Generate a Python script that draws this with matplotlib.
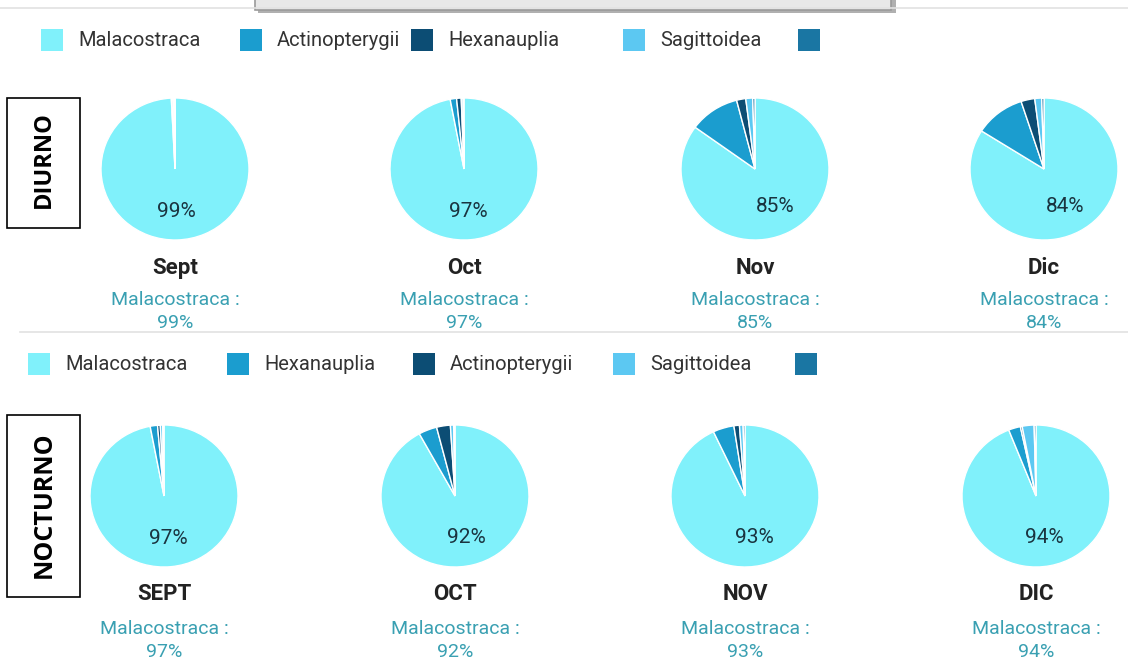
import matplotlib
matplotlib.use("Agg")
import matplotlib.pyplot as plt
from matplotlib.patches import Rectangle

# Datos (porcentajes por mes)
meses_diurno = ['Sept', 'Oct', 'Nov', 'Dic']
taxa_diurno = ['Malacostraca', 'Actinopterygii', 'Hexanauplia', 'Sagittoidea', '']
valores_diurno = [
    [99.2, 0.3, 0.2, 0.2, 0.1],   # Sept
    [97.0, 1.4, 1.0, 0.4, 0.2],   # Oct
    [85.0, 11.0, 2.0, 1.5, 0.5],  # Nov
    [84.0, 11.0, 3.0, 1.5, 0.5],  # Dic
]

meses_nocturno = ['SEPT', 'OCT', 'NOV', 'DIC']
taxa_nocturno = ['Malacostraca', 'Hexanauplia', 'Actinopterygii', 'Sagittoidea', '']
valores_nocturno = [
    [97.0, 1.6, 0.6, 0.5, 0.3],   # SEPT
    [92.0, 4.0, 3.0, 0.7, 0.3],   # OCT
    [93.0, 4.6, 1.2, 0.8, 0.4],   # NOV
    [94.0, 2.6, 0.4, 2.6, 0.4],   # DIC
]

colores = ['#80f1fb', '#1b9dcf', '#0c4d74', '#5cc8f2', '#1a76a3']

W, H = 1128, 661
fig = plt.figure(figsize=(W / 100, H / 100), dpi=100)
plt.rcParams['font.family'] = ['Roboto', 'DejaVu Sans']


def fx(x):
    return x / W


def fy(y):
    return 1 - y / H


def texto(x, y, s, **kw):
    fig.text(fx(x), fy(y), s, ha='center', va='center', **kw)


def caja(x, y, w, h, **kw):
    fig.add_artist(Rectangle((fx(x), fy(y + h)), w / W, h / H,
                             transform=fig.transFigure, **kw))


def linea(x0, x1, y, color='#e2e2e2', lw=1.2):
    fig.add_artist(plt.Line2D([fx(x0), fx(x1)], [fy(y), fy(y)],
                              transform=fig.transFigure, color=color, lw=lw))


# barra superior con caja gris (recorte del tooltip)
linea(0, W, 8)
caja(258, -6, 638, 19, facecolor='#b0b0b0', edgecolor='none')
caja(255, -8, 636, 18, facecolor='#e8e8e8', edgecolor='#9a9a9a', lw=1.2)

linea(20, W, 332)


def leyenda(y, xs_caja, etiquetas):
    for i, (xc, lab) in enumerate(zip(xs_caja, etiquetas)):
        caja(xc, y - 11, 22, 22, facecolor=colores[i], edgecolor='none')
        if lab:
            fig.text(fx(xc + 37), fy(y), lab, ha='left', va='center',
                     fontsize=14.5, color='#333333')


leyenda(40, [41, 240, 411, 623, 798], taxa_diurno)
leyenda(364, [28, 227, 413, 613, 795], taxa_nocturno)


def fila_pies(valores, meses, xs, cy, y_mes, y_tax, y_pct):
    rx, ry = 74, 71
    for vals, mes, cx in zip(valores, meses, xs):
        ax = fig.add_axes([fx(cx - rx), fy(cy + ry), 2 * rx / W, 2 * ry / H])
        ax.pie(vals, colors=colores, startangle=90, counterclock=False,
               wedgeprops=dict(edgecolor='white', linewidth=1.0),
               autopct=lambda p: f'{round(p)}%' if p > 50 else '',
               pctdistance=0.6,
               textprops=dict(fontsize=15, color='#1a3440'))
        ax.set_aspect('auto')
        ax.set_xlim(-1, 1)
        ax.set_ylim(-1, 1)
        texto(cx, y_mes, mes, fontsize=16, fontweight='bold', color='#222222')
        texto(cx, y_tax, 'Malacostraca :', fontsize=14, color='#3aa0b2')
        texto(cx, y_pct, f'{round(vals[0])}%', fontsize=14, color='#3aa0b2')


fila_pies(valores_diurno, meses_diurno, [175, 464, 755, 1044], 169, 268, 300, 323)
fila_pies(valores_nocturno, meses_nocturno, [164, 455, 745, 1036], 496, 594, 629, 652)

# etiquetas laterales
caja(7, 98, 73, 130, facecolor='white', edgecolor='black', lw=1.2)
texto(44, 160, 'DIURNO', rotation=90, fontsize=17, fontweight='bold',
      family=['Open Sans', 'DejaVu Sans'], color='black')
caja(7, 415, 73, 182, facecolor='white', edgecolor='black', lw=1.2)
texto(44, 505, 'NOCTURNO', rotation=90, fontsize=18, fontweight='bold',
      family=['Open Sans', 'DejaVu Sans'], color='black')

fig.savefig('out.png', dpi=100)
